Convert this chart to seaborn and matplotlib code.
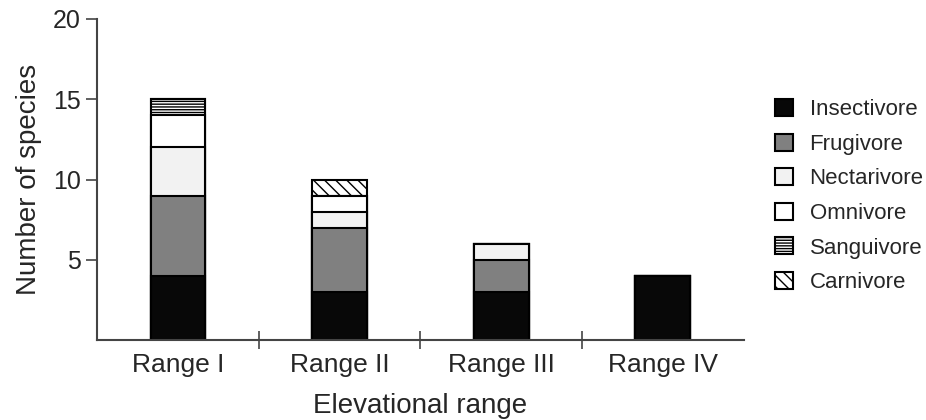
import numpy as np
import pandas as pd
import matplotlib
matplotlib.use("Agg")
import matplotlib.pyplot as plt
import seaborn as sns
from matplotlib.patches import Patch

categories = ["Range I", "Range II", "Range III", "Range IV"]
diets = ["Insectivore", "Frugivore", "Nectarivore", "Omnivore", "Sanguivore", "Carnivore"]
insectivore = [4, 3, 3, 4]
frugivore = [5, 4, 2, 0]
nectarivore = [3, 1, 1, 0]
omnivore = [2, 1, 0, 0]
sanguivore = [1, 0, 0, 0]
carnivore = [0, 1, 0, 0]
yticks = [5, 10, 15, 20]

series = [insectivore, frugivore, nectarivore, omnivore, sanguivore, carnivore]
colors = ["#080808", "#808080", "#f2f2f2", "#ffffff", "#ffffff", "#ffffff"]
hatches = [None, None, None, None, "------", "\\\\\\"]

sns.set_style("ticks")
plt.rcParams["font.family"] = ["Liberation Sans", "DejaVu Sans"]
plt.rcParams["hatch.linewidth"] = 1.0

fig = plt.figure(figsize=(9.26, 4.2), dpi=100)
ax = fig.add_axes([0.105, 0.19, 0.698, 0.765])

cum = np.cumsum(np.array(series), axis=0)
# draw from the topmost cumulative layer down so lower segments cover upper bars
for i in reversed(range(len(diets))):
    df = pd.DataFrame({"range": categories, "value": cum[i]})
    n_before = len(ax.patches)
    sns.barplot(data=df, x="range", y="value", order=categories, color=colors[i],
                saturation=1, width=0.34, edgecolor="black", linewidth=1.5,
                errorbar=None, ax=ax)
    for p in ax.patches[n_before:]:
        p.set_facecolor(colors[i])
        if hatches[i]:
            p.set_hatch(hatches[i])

ax.set_xlim(-0.5, 3.5)
ax.set_ylim(0, 20)
ax.set_yticks(yticks)
ax.set_yticklabels([str(t) for t in yticks])
ax.set_xticks(range(len(categories)))
ax.set_xticklabels(categories)
ax.set_xticks([0.5, 1.5, 2.5], minor=True)
ax.tick_params(axis="x", which="major", length=0, labelsize=19, pad=9)
ax.tick_params(axis="x", which="minor", length=13, width=1.2, color="#444444", direction="inout")
ax.tick_params(axis="y", which="major", length=8, width=1.2, color="#444444", labelsize=18, pad=4)
for s in ["top", "right"]:
    ax.spines[s].set_visible(False)
for s in ["left", "bottom"]:
    ax.spines[s].set_color("#444444")
    ax.spines[s].set_linewidth(1.5)
ax.set_xlabel("Elevational range", fontsize=20, labelpad=12)
ax.set_ylabel("Number of species", fontsize=20, labelpad=8)

handles = [Patch(facecolor=colors[i], edgecolor="black", linewidth=1.5,
                 hatch=hatches[i] if hatches[i] else None, label=diets[i])
           for i in range(len(diets))]
fig.legend(handles=handles, loc="center left", bbox_to_anchor=(0.837, 0.533),
           frameon=False, fontsize=16, handlelength=0.8, handleheight=0.8,
           handletextpad=0.75, labelspacing=0.6, borderaxespad=0, borderpad=0)

fig.savefig("out.png", dpi=100)
